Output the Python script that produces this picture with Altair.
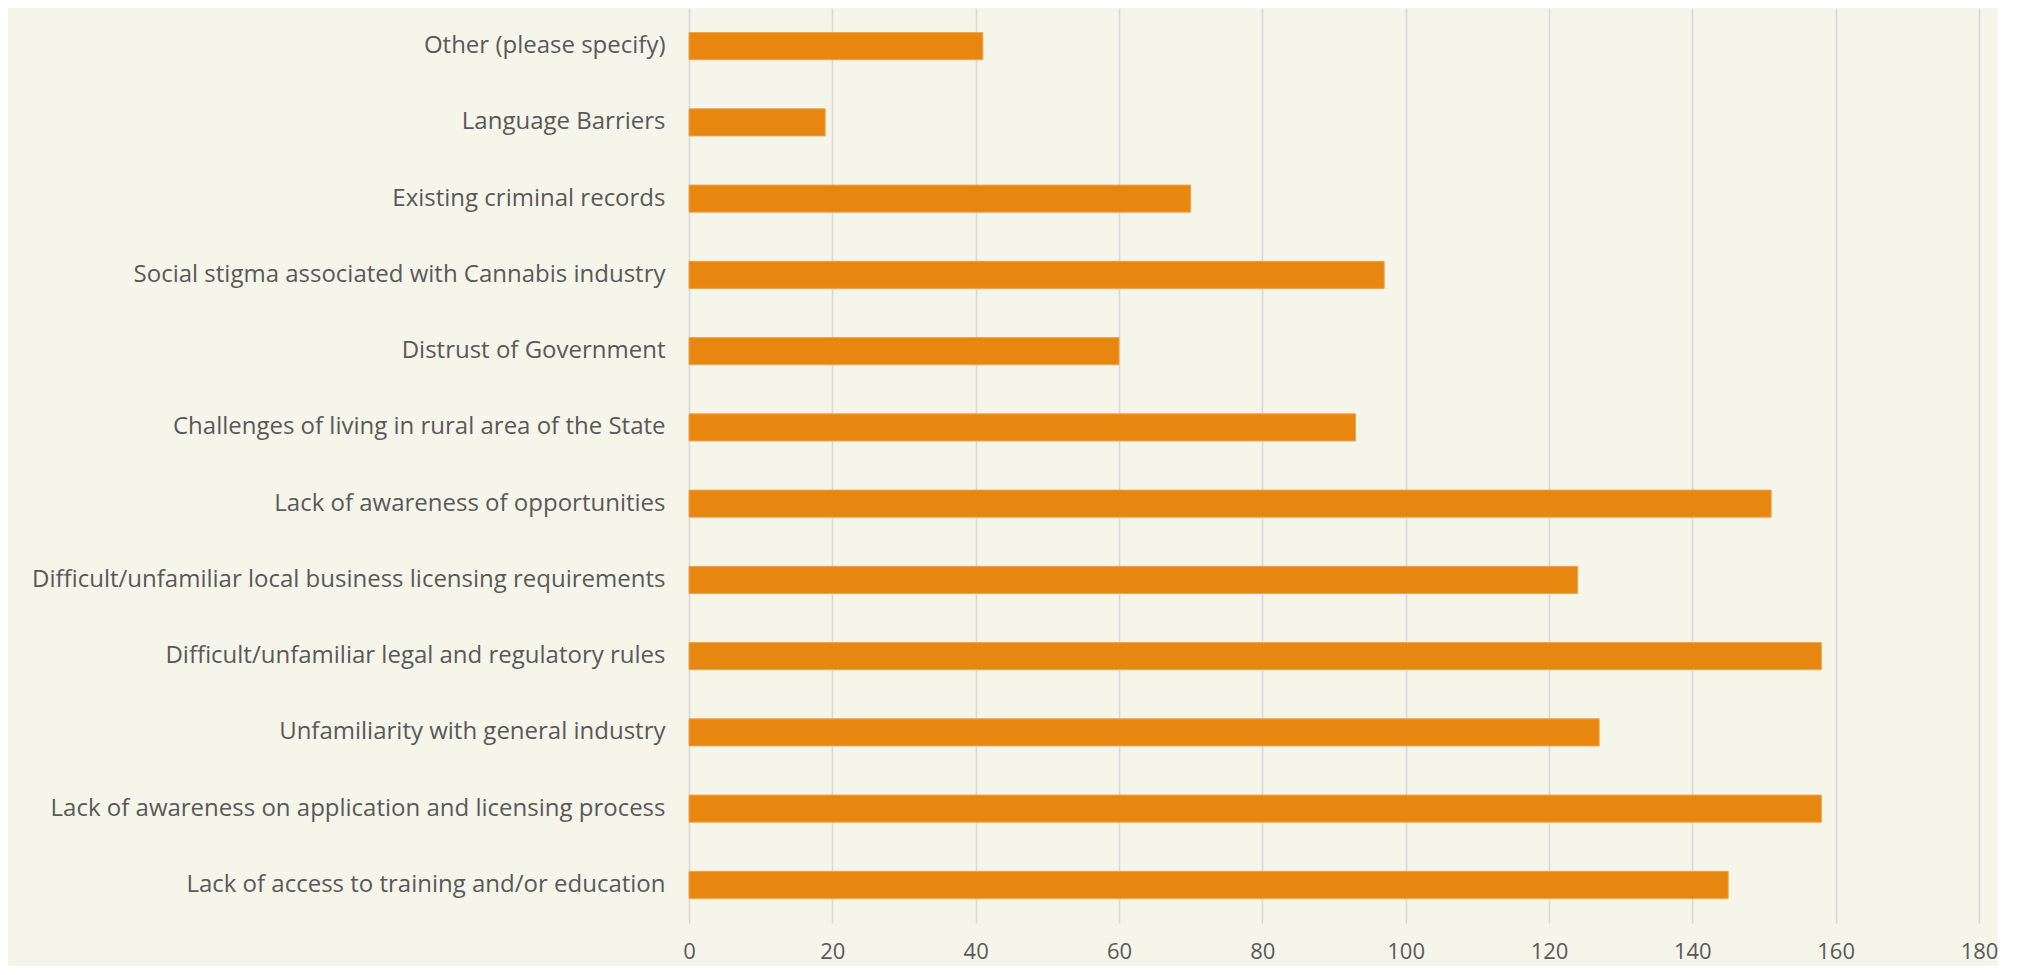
import altair as alt
import pandas as pd

categories = [
    "Other (please specify)",
    "Language Barriers",
    "Existing criminal records",
    "Social stigma associated with Cannabis industry",
    "Distrust of Government",
    "Challenges of living in rural area of the State",
    "Lack of awareness of opportunities",
    "Difficult/unfamiliar local business licensing requirements",
    "Difficult/unfamiliar legal and regulatory rules",
    "Unfamiliarity with general industry",
    "Lack of awareness on application and licensing process",
    "Lack of access to training and/or education",
]
counts = [41, 19, 70, 97, 60, 93, 151, 124, 158, 127, 158, 145]
x_ticks = [0, 20, 40, 60, 80, 100, 120, 140, 160, 180]

df = pd.DataFrame({"category": categories, "count": counts})

FONT = "Open Sans"
TEXT = "#595959"

chart = (
    alt.Chart(df)
    .mark_bar(color="#E8870F", stroke="#F0A24E", strokeWidth=1)
    .encode(
        x=alt.X(
            "count:Q",
            scale=alt.Scale(domain=[0, 180], nice=False, zero=True),
            axis=alt.Axis(
                values=x_ticks,
                title=None,
                domain=False,
                ticks=False,
                grid=True,
                gridColor="#d8d8d6",
                gridWidth=1.5,
                labelFont=FONT,
                labelFontSize=22,
                labelColor=TEXT,
                labelPadding=18,
                labelFlush=False,
            ),
        ),
        y=alt.Y(
            "category:N",
            sort=categories,
            scale=alt.Scale(paddingInner=0.645, paddingOuter=0.3225),
            axis=alt.Axis(
                title=None,
                domain=False,
                ticks=False,
                grid=False,
                labelFont=FONT,
                labelFontSize=24,
                labelColor=TEXT,
                labelPadding=24,
                labelLimit=1000,
                minExtent=681,
                maxExtent=681,
            ),
        ),
    )
    .properties(
        width=1290,
        height=915,
        padding={"left": 0, "top": 0, "right": 0, "bottom": 4},
        background="#f6f5ea",
    )
    .configure_view(stroke=None)
)

chart.save("out.html", embed_options={"renderer": "svg", "actions": False})
